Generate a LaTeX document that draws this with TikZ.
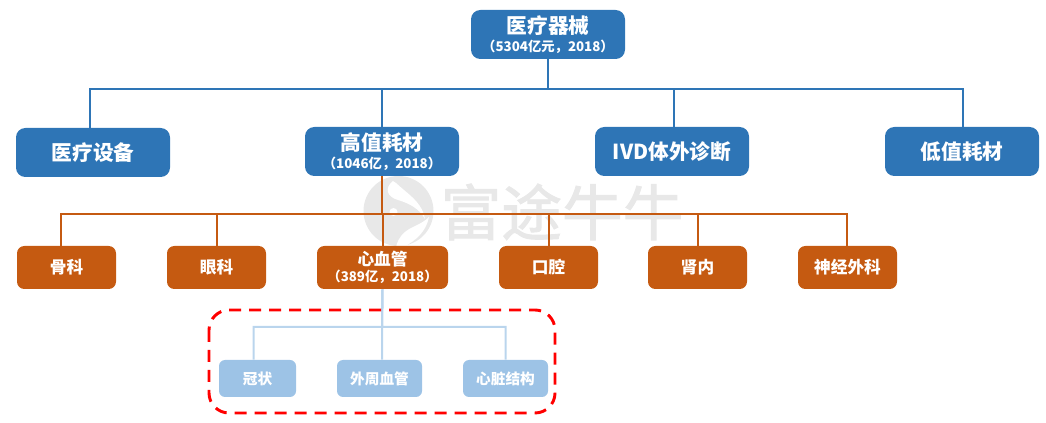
\documentclass[tikz,border=0pt]{standalone}
\usepackage{fontspec}
\setmainfont{Noto Sans CJK SC}
\newfontfamily\markfont[FakeBold=1.5]{Noto Sans CJK SC}
\usepackage{xcolor}
\usepackage{tikz}
\usetikzlibrary{positioning,calc}
\definecolor{boxblue}{RGB}{46,117,182}
\definecolor{boxorange}{RGB}{197,90,17}
\definecolor{boxlight}{RGB}{157,195,230}
\definecolor{markgray}{RGB}{232,232,232}
\newcommand{\sublabel}{\fontsize{10}{11}\selectfont}
\tikzset{
  topbox/.style={fill=boxblue, text=white, rounded corners=7pt, minimum width=115.5pt, minimum height=36.75pt, inner sep=0pt, align=center, font=\bfseries\fontsize{15.5}{17}\selectfont},
  midbox/.style={fill=boxorange, text=white, rounded corners=5.5pt, minimum height=32.25pt, inner sep=0pt, align=center, font=\bfseries\fontsize{12.5}{14}\selectfont},
  lowbox/.style={fill=boxlight, text=white, rounded corners=4.5pt, minimum height=27.75pt, inner sep=0pt, align=center, font=\bfseries\fontsize{11}{13}\selectfont},
  bluelink/.style={draw=boxblue, line width=1.5pt},
  orangelink/.style={draw=boxorange, line width=1.5pt},
  lightlink/.style={draw=boxlight!70, line width=1.5pt},
}
\begin{document}
\begin{tikzpicture}[x=0.75pt,y=-0.75pt]
\useasboundingbox (0,0) rectangle (1046,423);
% watermark
\fill[markgray] (398.5,211) circle (35);
\fill[white] (393,181) .. controls (384,188) and (387,197) .. (398,200) .. controls (408,203) and (419,208) .. (425,219) .. controls (423,205) and (411,196) .. (404,190) .. controls (400,187) and (398,184) .. (393,181) -- cycle;
\fill[white] (429,217) .. controls (421,225) and (412,226) .. (405,232) .. controls (400,236) and (397,242) .. (396,247) -- (404,247) .. controls (416,240) and (426,232) .. (429,217) -- cycle;
\fill[white] (393.5,212) circle (4);
\node[text=markgray, font=\markfont\fontsize{45.5}{47}\selectfont] (mark) at (562,212) {富途牛牛};
% first level
\node[topbox] (top) at (548,34.5) {医疗器械\\[-3pt]{\sublabel （5304亿元，2018）}};
\node[topbox] (dev) at (93,152.5) {医疗设备};
\node[topbox] (high) at (382,151.5) {高值耗材\\[-3pt]{\sublabel （1046亿，2018）}};
\node[topbox] (ivd) at (672,151.5) {IVD体外诊断};
\node[topbox] (low) at (962,151.5) {低值耗材};
\coordinate (busa) at (548,89);
\foreach \n/\d in {dev/-3,high/0,ivd/2,low/1}
  \draw[bluelink] (top.south) -- (busa) -| ([xshift=\d*0.75pt]\n.north);
% second level
\node[midbox, minimum width=74.25pt] (bone) at (66.5,267.5) {骨科};
\node[midbox, minimum width=74.25pt] (eye) at (216.5,267.5) {眼科};
\node[midbox, minimum width=98.25pt] (heart) at (382.5,267.5) {心血管\\[-2pt]{\sublabel （389亿，2018）}};
\node[midbox, minimum width=74.25pt] (oral) at (548.5,267.5) {口腔};
\node[midbox, minimum width=74.25pt] (renal) at (697.5,267.5) {肾内};
\node[midbox, minimum width=74.25pt] (neuro) at (847.5,267.5) {神经外科};
\coordinate (busb) at (382,214);
\foreach \n/\d in {bone/-6,eye/0,heart/0,oral/0,renal/0,neuro/-1}
  \draw[orangelink] (high.south) -- (busb) -| ([xshift=\d*0.75pt]\n.north);
% third level
\node[lowbox, minimum width=57.75pt] (coronary) at (257.5,378.5) {冠状};
\node[lowbox, minimum width=63.75pt] (periph) at (379.5,378.5) {外周血管};
\node[lowbox, minimum width=63.75pt] (struct) at (505.5,378.5) {心脏结构};
\coordinate (busc) at (382,327);
\foreach \n/\d in {coronary/-4,periph/2.5,struct/0}
  \draw[lightlink] (heart.south) -- (busc) -| ([xshift=\d*0.75pt]\n.north);
\draw[red, line width=2.2pt, dash pattern=on 9pt off 6pt, rounded corners=15pt] (209,310) rectangle (555,413);
\end{tikzpicture}
\end{document}
